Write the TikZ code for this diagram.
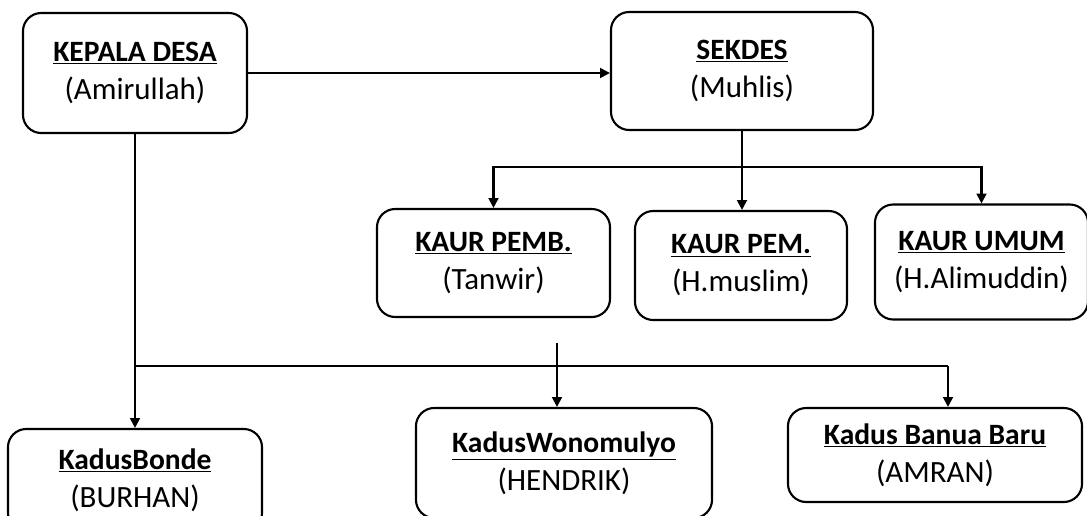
\documentclass[tikz,border=0pt]{standalone}
\usepackage{fontspec}
\setmainfont{Carlito}
\usetikzlibrary{arrows.meta, positioning}
\newcommand{\jabatan}[1]{{\fontsize{21}{27}\selectfont\textbf{\underline{#1}}}}
\tikzset{
    unit/.style={
        rectangle,
        draw=black,
        line width=1.5pt,
        rounded corners=13pt,
        fill=white,
        align=center,
        font=\fontsize{22}{27}\selectfont
    },
    arrow/.style={
        -{Triangle[width=7pt,length=7pt]},
        line width=1.5pt
    },
    link/.style={
        line width=1.5pt
    }
}

\begin{document}
\begin{tikzpicture}[x=0.025cm, y=-0.025cm]

    % Frame
    \useasboundingbox (0,0) rectangle (1087,515);
    \clip (0,0) rectangle (1087,515);

    % Top row
    \node[unit, minimum width=5.6cm, minimum height=3cm] (kepala) at (135,73) {\jabatan{KEPALA DESA}\\(Amirullah)};
    \node[unit, minimum width=6.55cm, minimum height=2.95cm] (sekdes) at (742,71) {\jabatan{SEKDES}\\(Muhlis)};

    % KAUR row
    \node[unit, minimum width=5.825cm, minimum height=2.7cm] (pemb) at (493.5,263) {\jabatan{KAUR PEMB.}\\(Tanwir)};
    \node[unit, minimum width=5.3cm, minimum height=2.725cm] (pem) at (741,265.5) {\jabatan{KAUR PEM.}\\(H.muslim)};
    \node[unit, minimum width=5.325cm, minimum height=2.875cm] (umum) at (981.5,262) {\jabatan{KAUR UMUM}\\(H.Alimuddin)};

    % Kadus row
    \node[unit, minimum width=6.35cm, minimum height=2.55cm] (bonde) at (135,480) {\jabatan{KadusBonde}\\(BURHAN)};
    \node[unit, minimum width=7.4cm, minimum height=2.75cm] (wono) at (564,463) {\jabatan{KadusWonomulyo}\\(HENDRIK)};
    \node[unit, minimum width=7.35cm, minimum height=2.35cm] (banua) at (935,455) {\jabatan{Kadus Banua Baru}\\(AMRAN)};

    % Kepala -> Sekdes
    \draw[arrow] (kepala.east) -- (kepala.east -| sekdes.west);

    % Sekdes -> KAUR
    \draw[link] (sekdes.south) -- ++(0,36) coordinate (sk);
    \draw[arrow] (sk) -| (pemb.north);
    \draw[arrow] (sk) -- (sk |- pem.north);
    \draw[arrow] (sk) -| (umum.north);

    % Kepala -> Kadus
    \coordinate (bar) at (135,366);
    \coordinate (wtop) at (557,343);
    \coordinate (btop) at (948,366);
    \draw[arrow] (kepala.south) -- (bonde.north);
    \draw[link] (bar) -- (btop);
    \draw[arrow] (wtop) -- (wtop |- wono.north);
    \draw[arrow] (btop) -- (btop |- banua.north);

\end{tikzpicture}
\end{document}
